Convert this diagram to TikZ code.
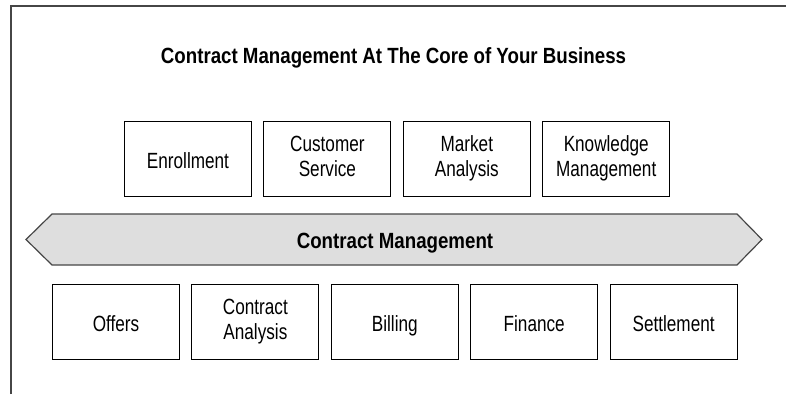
\documentclass[tikz,border=0pt]{standalone}
\usepackage{fontspec}
\setmainfont{Liberation Sans}[FakeStretch=0.78]
\newfontfamily\headfont{Liberation Sans}[FakeStretch=0.85]
\usepackage{tikz}
\usetikzlibrary{calc}

\definecolor{bandfill}{RGB}{222,222,222}
\definecolor{bandline}{RGB}{70,70,70}

\tikzset{
	cell/.style = {draw, line width = 1.1pt, minimum width = 127pt, minimum height = 75pt,
		inner sep = 0pt, align = center, font = \fontsize{22}{25}\selectfont,
		execute at begin node = {\rule{0pt}{23.3pt}},
		execute at end node = {\rule[-5pt]{0pt}{5pt}}},
	heading/.style = {inner sep = 0pt, anchor = base, font = \headfont\bfseries\fontsize{22}{24}\selectfont}
}

\begin{document}
\begin{tikzpicture}[x = 1pt, y = -1pt]
			\def\dx{139.4};
			\def\topy{159};
			\def\boty{322};
			
			\useasboundingbox (0,0) rectangle (786,394);
			
			% frame
			\draw [line width = 1.3pt, bandline] (11,394) -- (11,6) -- (786,6);
			
			\node [heading] (title) at (393.5,63.3) {Contract Management At The Core of Your Business};
			
			% upper row
			\node [cell] (enrollment) at (188,\topy) {Enrollment};
			\node [cell] (service) at ($ (enrollment) + (\dx,0) $) {Customer\\Service};
			\node [cell] (market) at ($ (service) + (\dx,0) $) {Market\\Analysis};
			\node [cell] (knowledge) at ($ (market) + (\dx,0) $) {Knowledge\\Management};
			
			% core band
			\draw [line width = 1.2pt, bandline, fill = bandfill]
				(26,239.5) -- (52,214) -- (737,214) -- (762,239.5) -- (737,265) -- (52,265) -- cycle;
			\node [heading] (core) at (395,248.7) {Contract Management};
			
			% lower row
			\node [cell] (offers) at (116,\boty) {Offers};
			\node [cell] (analysis) at ($ (offers) + (\dx,0) $) {Contract\\Analysis};
			\node [cell] (billing) at ($ (analysis) + (\dx,0) $) {Billing};
			\node [cell] (finance) at ($ (billing) + (\dx,0) $) {Finance};
			\node [cell] (settlement) at ($ (finance) + (\dx,0) $) {Settlement};
		\end{tikzpicture}
\end{document}
